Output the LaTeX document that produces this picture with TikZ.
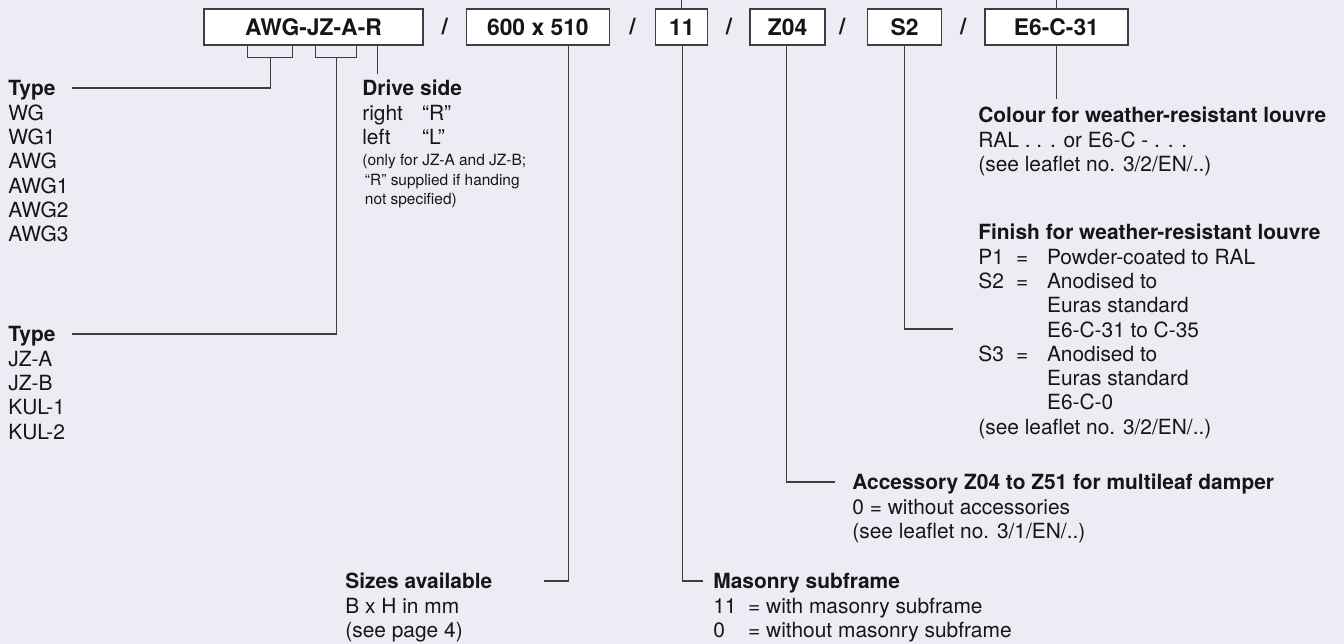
\documentclass[tikz,border=0pt]{standalone}
\usepackage{fontspec}
\setmainfont{TeX Gyre Heros}
\usetikzlibrary{positioning,calc}
\definecolor{sheetbg}{RGB}{237,236,245}
\definecolor{inkline}{RGB}{62,62,66}
\definecolor{inktext}{RGB}{22,22,24}
\newcommand{\txtsize}{\fontsize{11.9}{13.8}\selectfont}
\newcommand{\notesize}{\fontsize{8.8}{11.1}\selectfont}
\newcommand{\eqrow}[1]{\makebox[21.5pt][l]{#1}\makebox[17.6pt][l]{=}}
\newcommand{\eqgap}{\hspace*{39.1pt}}
\tikzset{
  codepicture/.style={x=0.02cm, y=-0.02cm, node distance=0.84cm, text=inktext},
  codebox/.style={draw=inkline, line width=0.8pt, fill=white, font=\fontsize{13}{15}\selectfont\bfseries, minimum height=0.72cm, inner sep=0pt},
  codeslash/.style={font=\fontsize{13}{15}\selectfont\bfseries, inner sep=0pt},
  keyhead/.style={anchor=base west, inner sep=0pt, font=\txtsize\bfseries},
  keybody/.style={below right=0pt of #1.south west, inner sep=0pt, align=left, font=\txtsize},
  keynote/.style={inner sep=0pt, align=left, font=\notesize},
  keyline/.style={draw=inkline, line width=0.6pt}
}
\begin{document}
\begin{tikzpicture}[codepicture]
\fill[sheetbg] (0,0) rectangle (1344,644);
\useasboundingbox (0,0) rectangle (1344,644);
\coordinate (sheettop) at (0,0);

% order code boxes
\node[codebox, minimum width=4.38cm] (awg) at (313.5,27) {AWG-JZ-A-R};
\node[codebox, minimum width=2.86cm, right=of awg] (size) {600 x 510};
\node[codebox, minimum width=1.04cm, right=0.9cm of size] (eleven) {11};
\node[codebox, minimum width=1.5cm, right=0.82cm of eleven] (zfour) {Z04};
\node[codebox, minimum width=1.48cm, right=0.82cm of zfour] (stwo) {S2};
\node[codebox, minimum width=2.86cm, right=of stwo] (esix) {E6-C-31};
\node[codeslash] (sl1) at ($(awg.east)!.5!(size.west)$) {/};
\node[codeslash] (sl2) at ($(size.east)!.5!(eleven.west)$) {/};
\node[codeslash] (sl3) at ($(eleven.east)!.5!(zfour.west)$) {/};
\node[codeslash] (sl4) at ($(zfour.east)!.4!(stwo.west)$) {/};
\node[codeslash] (sl5) at ($(stwo.east)!.5!(esix.west)$) {/};

% key texts
\node[keyhead] (typeA) at (8,95.5) {\strut Type};
\node[keybody=typeA] (typeAlist) {\strut WG\\WG1\\AWG\\AWG1\\AWG2\\AWG3};
\node[keyhead] (typeB) at (8,341.5) {\strut Type};
\node[keybody=typeB] (typeBlist) {\strut JZ-A\\JZ-B\\KUL-1\\KUL-2};
\node[keyhead] (drive) at (362,95.5) {\strut Drive side};
\node[keybody=drive] (drivelist) {\strut\makebox[34pt][l]{right}“R”\\\makebox[34pt][l]{left}“L”};
\node[keynote, below=3.5pt of drivelist.south west, anchor=north west] (drivenote) {\strut(only for JZ-A and JZ-B;\\\hspace*{1.5pt}“R” supplied if handing\\\hspace*{1.5pt}not specified)};
\node[keyhead] (colour) at (978,122.5) {\strut Colour for weather-resistant louvre};
\node[keybody=colour] (colourlist) {\strut RAL . . . or E6-C - . . .\\(see leaflet no. 3/2/EN/..)};
\node[keyhead] (finish) at (978,239.5) {\strut Finish for weather-resistant louvre};
\node[keybody=finish] (finishlist) {\strut\eqrow{P1}Powder-coated to RAL\\
  \eqrow{S2}Anodised to\\\eqgap Euras standard\\\eqgap E6-C-31 to C-35\\
  \eqrow{S3}Anodised to\\\eqgap Euras standard\\\eqgap E6-C-0\\
  (see leaflet no. 3/2/EN/..)};
\node[keyhead] (access) at (852,489.5) {\strut Accessory Z04 to Z51 for multileaf damper};
\node[keybody=access] (accesslist) {\strut 0 = without accessories\\(see leaflet no. 3/1/EN/..)};
\node[keyhead] (sizes) at (345,588.5) {\strut Sizes available};
\node[keybody=sizes] (sizeslist) {\strut B x H in mm\\(see page 4)};
\node[keyhead] (mason) at (713,588.5) {\strut Masonry subframe};
\node[keybody=mason] (masonlist) {\strut\makebox[19.8pt][l]{11}= with masonry subframe\\\makebox[19.8pt][l]{0}= without masonry subframe};
\coordinate (finend) at (953,329);

% leader lines
\draw[keyline] (awg.south west) ++(44,0) -- ++(0,12) -- ++(45,0) -- ++(0,-12);
\draw[keyline] (awg.south west) ++(67,12) |- ([xshift=9pt,yshift=1.5pt]typeA.east);
\draw[keyline] (awg.south west) ++(112,0) -- ++(0,12) -- ++(41,0) -- ++(0,-12);
\draw[keyline] (awg.south west) ++(133,12) |- ([xshift=9pt,yshift=1.5pt]typeB.east);
\draw[keyline] (awg.south west) ++(174,0) coordinate (drtop) -- ([yshift=2.5pt]drtop |- drive.north);
\draw[keyline] (size.south) ++(30.5,0) |- ([xshift=29pt,yshift=1.5pt]sizes.east);
\draw[keyline] (eleven.north) -- (eleven.north |- sheettop);
\draw[keyline] (eleven.south) ++(1,0) |- ([xshift=-5.7pt,yshift=1.5pt]mason.west);
\draw[keyline] (zfour.south) ++(-1.5,0) |- ([xshift=-9.6pt,yshift=1.5pt]access.west);
\draw[keyline] (stwo.south) |- (finend);
\draw[keyline] (esix.north) -- (esix.north |- sheettop);
\draw[keyline] (esix.south) -- ([yshift=3.7pt]esix.south |- colour.north);
\end{tikzpicture}
\end{document}
